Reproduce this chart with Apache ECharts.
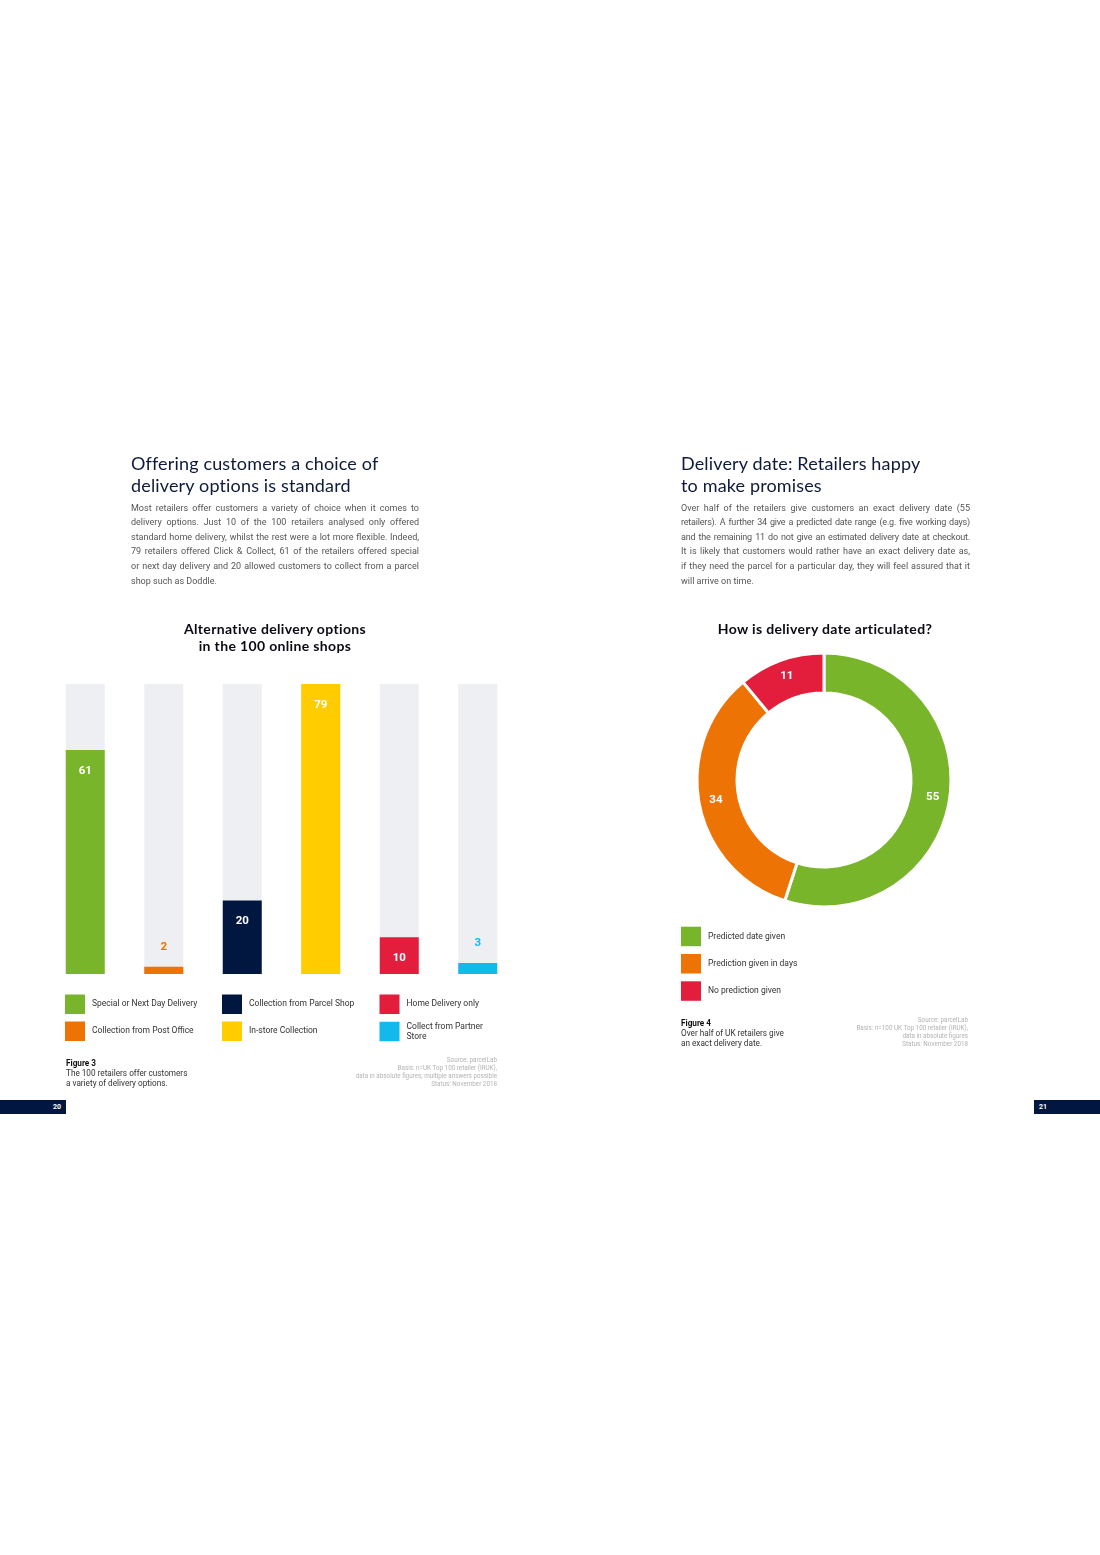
<!DOCTYPE html>
<html>
<head>
<meta charset="utf-8">
<title>Delivery options and delivery dates</title>
<script src="https://cdn.jsdelivr.net/npm/echarts@6.0.0/dist/echarts.min.js"></script>
<style>
    html, body {
        margin: 0;
        padding: 0;
        background: #fff;
    }
    #page {
        position: relative;
        width: 1100px;
        height: 1555px;
        overflow: hidden;
    }
    #chart {
        position: absolute;
        left: 0;
        top: 0;
        width: 1100px;
        height: 1555px;
    }
    .txt {
        position: absolute;
        z-index: 2;
    }
    .head {
        font-family: Lato, "Noto Sans", sans-serif;
        font-size: 18px;
        letter-spacing: 0.15px;
        line-height: 22px;
        color: #0e1a3a;
        white-space: nowrap;
    }
    .body {
        font-family: Roboto, "Noto Sans", sans-serif;
        font-size: 9px;
        line-height: 14.6px;
        color: #555;
    }
    .body span {
        display: block;
        text-align: justify;
        text-align-last: justify;
        white-space: nowrap;
    }
    .body span.end {
        text-align-last: left;
    }
    .body span.tight {
        letter-spacing: -0.2px;
    }
    .ctitle {
        font-family: Lato, "Noto Sans", sans-serif;
        font-weight: 700;
        font-size: 14px;
        letter-spacing: 0.35px;
        line-height: 17px;
        color: #0a0a14;
        text-align: center;
        width: 300px;
        white-space: nowrap;
    }
    .fig {
        font-family: Roboto, "Noto Sans", sans-serif;
        font-size: 8.2px;
        line-height: 9.9px;
        color: #333;
        white-space: nowrap;
    }
    .fig b {
        color: #111;
    }
    .src {
        font-family: Roboto, "Noto Sans", sans-serif;
        font-size: 6.3px;
        line-height: 8.1px;
        color: #b3b3b3;
        text-align: right;
        white-space: nowrap;
    }
    .pg {
        position: absolute;
        top: 1100px;
        height: 14px;
        width: 66px;
        background: #02173f;
        color: #fff;
        font-family: Roboto, sans-serif;
        font-weight: 700;
        font-size: 7px;
        line-height: 14px;
        z-index: 2;
    }
</style>
</head>
<body>
<div id="page">
    <div id="chart"></div>

    <div class="txt head" style="left:131px;top:451.5px;">Offering customers a choice of<br>delivery options is standard</div>
    <div class="txt body" style="left:131px;top:500.7px;width:288px;">
        <span>Most retailers offer customers a variety of choice when it comes to</span>
        <span>delivery options. Just 10 of the 100 retailers analysed only offered</span>
        <span>standard home delivery, whilst the rest were a lot more flexible. Indeed,</span>
        <span>79 retailers offered Click &amp; Collect, 61 of the retailers offered special</span>
        <span>or next day delivery and 20 allowed customers to collect from a parcel</span>
        <span class="end">shop such as Doddle.</span>
    </div>

    <div class="txt head" style="left:681px;top:451.5px;">Delivery date: Retailers happy<br>to make promises</div>
    <div class="txt body" style="left:681px;top:500.7px;width:289px;">
        <span>Over half of the retailers give customers an exact delivery date (55</span>
        <span class="tight">retailers). A further 34 give a predicted date range (e.g. five working days)</span>
        <span class="tight">and the remaining 11 do not give an estimated delivery date at checkout.</span>
        <span>It is likely that customers would rather have an exact delivery date as,</span>
        <span>if they need the parcel for a particular day, they will feel assured that it</span>
        <span class="end">will arrive on time.</span>
    </div>

    <div class="txt ctitle" style="left:125px;top:619.5px;">Alternative delivery options<br>in the 100 online shops</div>
    <div class="txt ctitle" style="left:675px;top:619.5px;">How is delivery date articulated?</div>

    <div class="txt fig" style="left:66px;top:1059.3px;"><b>Figure 3</b><br>The 100 retailers offer customers<br>a variety of delivery options.</div>
    <div class="txt src" style="right:603px;top:1056px;">Source: parcelLab<br>Basis: n=UK Top 100 retailer (IRUK),<br>data in absolute figures; multiple answers possible<br>Status: November 2018</div>

    <div class="txt fig" style="left:681px;top:1018.7px;"><b>Figure 4</b><br>Over half of UK retailers give<br>an exact delivery date.</div>
    <div class="txt src" style="right:132px;top:1016px;">Source: parcelLab<br>Basis: n=100 UK Top 100 retailer (IRUK),<br>data in absolute figures<br>Status: November 2018</div>

    <div class="pg" style="left:0;text-align:right;"><span style="padding-right:5px;">20</span></div>
    <div class="pg" style="left:1034px;text-align:left;"><span style="padding-left:5px;">21</span></div>
</div>

<script>
'use strict';

// bar chart: alternative delivery options (values out of 100 shops)
var barNames = ['Special or Next Day Delivery', 'Collection from Post Office', 'Collection from Parcel Shop',
    'In-store Collection', 'Home Delivery only', 'Collect from Partner Store'];
var barValues = [61, 2, 20, 79, 10, 3];
var barColors = ['#79b52b', '#ec7304', '#02173f', '#ffcc00', '#e31e3c', '#12b9eb'];
var barMax = 79;

// donut: how is delivery date articulated
var pieNames = ['Predicted date given', 'Prediction given in days', 'No prediction given'];
var pieValues = [55, 34, 11];
var pieColors = ['#79b52b', '#ec7304', '#e31e3c'];

var legendText = {
    'Collect from Partner Store': 'Collect from Partner\nStore'
};

var smallFont = 'Roboto, "Noto Sans", sans-serif';

var series = [];

// grey full-height bars behind the coloured ones
series.push({
    type: 'bar',
    name: 'bg',
    silent: true,
    barWidth: 39,
    barGap: '-100%',
    itemStyle: {color: '#eeeff3'},
    data: barNames.map(function () {
        return barMax;
    })
});

barNames.forEach(function (n, i) {
    var data = barValues.map(function (v, j) {
        if (j !== i) {
            return '-';
        }
        var small = v < 5;
        return {
            value: v,
            label: {
                position: small ? 'top' : 'insideTop',
                distance: small ? 13.5 : 15,
                color: small ? barColors[i] : '#fff'
            }
        };
    });
    series.push({
        type: 'bar',
        name: n,
        stack: 'opts',
        barWidth: 39,
        barGap: '-100%',
        itemStyle: {color: barColors[i]},
        label: {
            show: true,
            fontFamily: smallFont,
            fontWeight: 'bold',
            fontSize: 11.5
        },
        data: data
    });
});

series.push({
    type: 'pie',
    name: 'delivery date',
    center: [824, 780],
    radius: [87, 127],
    startAngle: 90,
    clockwise: true,
    silent: true,
    itemStyle: {
        borderColor: '#fff',
        borderWidth: 3
    },
    label: {
        show: true,
        position: 'inside',
        color: '#fff',
        fontFamily: smallFont,
        fontWeight: 'bold',
        fontSize: 11.5,
        formatter: '{c}'
    },
    labelLine: {show: false},
    data: pieNames.map(function (n, i) {
        return {name: n, value: pieValues[i], itemStyle: {color: pieColors[i]}};
    })
});

function makeLegend(names, left, top, h, gap) {
    return {
        data: names,
        orient: 'vertical',
        left: left,
        top: top,
        padding: 0,
        itemWidth: 20,
        itemHeight: h,
        itemGap: gap,
        icon: 'rect',
        selectedMode: false,
        itemStyle: {
            borderWidth: 0
        },
        formatter: function (name) {
            return legendText[name] || name;
        },
        textStyle: {
            fontFamily: smallFont,
            fontSize: 8.5,
            lineHeight: 10,
            color: '#333',
            padding: [0, 0, 0, 2]
        }
    };
}

var options = {
    animation: false,
    grid: {
        left: 46,
        top: 684,
        width: 471,
        height: 290
    },
    xAxis: {
        type: 'category',
        data: barNames,
        show: false
    },
    yAxis: {
        type: 'value',
        min: 0,
        max: barMax,
        show: false
    },
    legend: [
        makeLegend(barNames.slice(0, 2), 65, 994.5, 19.5, 7.5),
        makeLegend(barNames.slice(2, 4), 222, 994.5, 19.5, 7.5),
        makeLegend(barNames.slice(4, 6), 379.5, 994.5, 19.5, 7.5),
        makeLegend(pieNames, 681, 926.7, 19.5, 7.8)
    ],
    series: series
};

var myChart = echarts.init(document.getElementById('chart'), null, {renderer: 'canvas'});
myChart.setOption(options);
</script>
</body>
</html>
